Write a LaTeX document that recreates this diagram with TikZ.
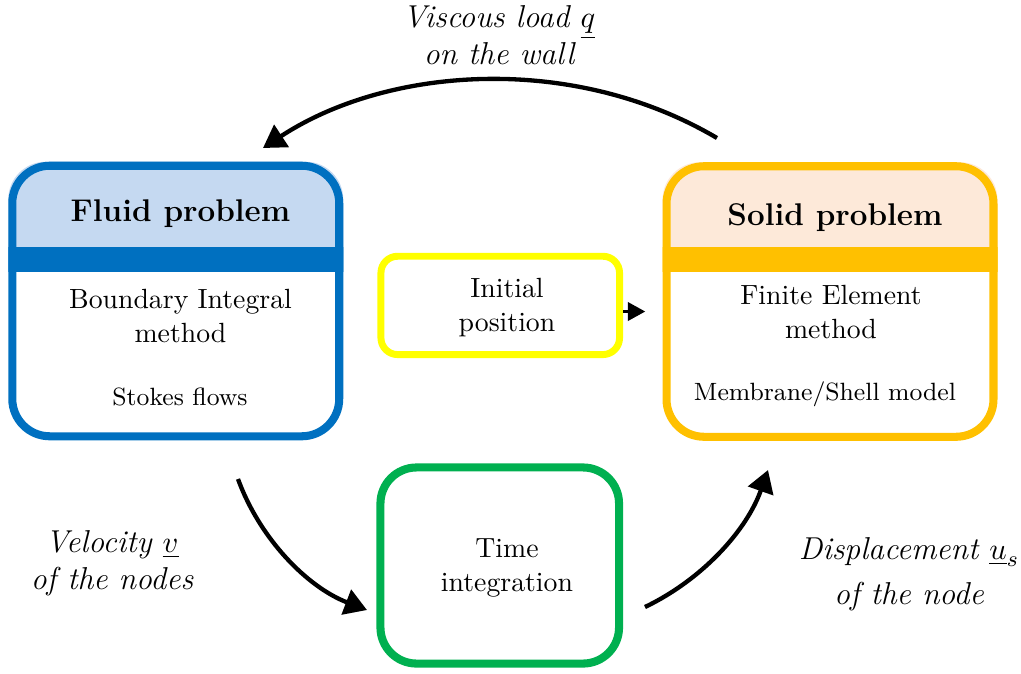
\documentclass[tikz,border=0pt]{standalone}
\usetikzlibrary{arrows.meta,backgrounds}
\definecolor{fluidblue}{RGB}{0,112,192}
\definecolor{fluidlight}{RGB}{197,217,241}
\definecolor{solidgold}{RGB}{255,192,0}
\definecolor{solidlight}{RGB}{253,233,217}
\definecolor{inityellow}{RGB}{255,255,0}
\definecolor{timegreen}{RGB}{0,176,80}
\begin{document}
\begin{tikzpicture}[x=0.36pt,y=-0.36pt,
  bigbox/.style={draw, line width=2.9pt, rounded corners=13.5pt, minimum width=117.7pt, minimum height=97.4pt, inner sep=0pt},
  initbox/.style={draw=inityellow, line width=2.5pt, rounded corners=6pt, minimum width=85.9pt, minimum height=35.4pt, inner sep=0pt},
  timebox/.style={draw=timegreen, line width=2.9pt, rounded corners=13pt, minimum width=85.9pt, minimum height=70.6pt, inner sep=0pt},
  titletext/.style={font=\fontsize{11.3}{13.5}\selectfont\bfseries},
  bodytext/.style={font=\fontsize{10}{12}\selectfont, align=center},
  smalltext/.style={font=\fontsize{9}{11}\selectfont},
  labtext/.style={font=\fontsize{11.4}{13.2}\selectfont\itshape, align=center},
  arc/.style={line width=1.55pt, -{Triangle[length=8pt,width=9.4pt]}},
  smallarr/.style={line width=1.1pt, -{Triangle[length=6.3pt,width=6.6pt]}, shorten >=6.2pt}]
\useasboundingbox (0,0) rectangle (1021,673);

% boxes
\node[bigbox, draw=fluidblue] (fluid) at (175.75,301) {};
\node[bigbox, draw=solidgold] (solid) at (830,301.5) {};
\node[initbox] (init) at (500.25,305.4) {};
\node[timebox] (time) at (499.75,565.5) {};

\begin{scope}[on background layer]
  \begin{scope}
    \clip[rounded corners=13.5pt] (fluid.north west) rectangle (fluid.south east);
    \fill[fluidlight] (0,150) rectangle (360,247);
    \fill[fluidblue] (0,247) rectangle (360,272);
  \end{scope}
  \begin{scope}
    \clip[rounded corners=13.5pt] (solid.north west) rectangle (solid.south east);
    \fill[solidlight] (650,150) rectangle (1010,247);
    \fill[solidgold] (650,247) rectangle (1010,272);
  \end{scope}
\end{scope}

% texts
\node[titletext] (fluidT) at (180.5,214) {Fluid problem};
\node[bodytext] (fluidB) at (180.5,316) {Boundary Integral\\method};
\node[smalltext] (fluidS) at (180,396.5) {Stokes flows};
\node[titletext] (solidT) at (835,217.5) {Solid problem};
\node[bodytext] (solidB) at (831,312) {Finite Element\\method};
\node[smalltext] (solidS) at (825,394.7) {Membrane/Shell model};
\node[bodytext] (initT) at (507,307.4) {Initial\\position};
\node[bodytext] (timeT) at (507,568) {Time\\integration};

\node[labtext] (qlab) at (499,35) {Viscous load $\underline{q}$\\on the wall};
\node[labtext] (vlab) at (112,563) {Velocity $\underline{v}$\\of the nodes};
\node[labtext] (ulab) at (909,574) {Displacement $\underline{u}_s$\\[3pt]of the node};

% connectors
\coordinate (qstart) at (717,138);
\coordinate (qend) at (263,148);
\draw[arc] (qstart) .. controls (573,53) and (388,66) .. (qend);

\coordinate (vstart) at (238,479);
\coordinate (vend) at (367,610);
\draw[arc] (vstart) .. controls (259.8,538.9) and (307.5,587.2) .. (vend);

\coordinate (ustart) at (645,607);
\coordinate (uend) at (768,470);
\draw[arc] (ustart) .. controls (702.5,579.4) and (746.8,530.2) .. (uend);

\coordinate (ia) at ([yshift=-2.2pt]init.east);
\draw[smallarr] (ia) -- (ia -| solid.west);
\end{tikzpicture}
\end{document}
